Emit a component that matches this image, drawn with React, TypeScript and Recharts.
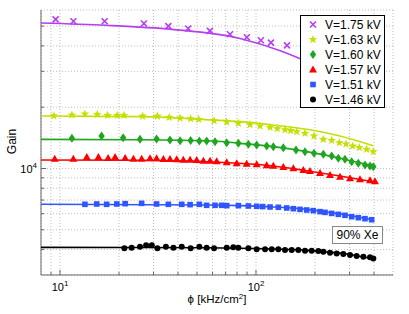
import React from "react";
import { CartesianGrid, Scatter, ScatterChart, XAxis, YAxis } from "recharts";

// flux (kHz/cm^2) and gain readings, one pair of arrays per voltage
const phi175 = [9.5, 11.7, 16.9, 26.8, 35.7, 45.1, 58.2, 73.7, 89.8, 105.9, 119.2, 143.9];
const gain175 = [54000, 52800, 52800, 51500, 50000, 48700, 47400, 45600, 44100, 42600, 41500, 40200];
const fitPhi175 = [8, 17.2, 37.3, 82.9, 133, 200, 300, 400];
const fitGain175 = [51800, 50500, 48200, 43500, 37900, 32200, 26800, 23200];

const phi163 = [9.3, 11.5, 13.4, 15.5, 17.5, 19.6, 21.2, 26.4, 31.4, 36.1, 41.0, 46.4, 51.0, 61.1, 70.9, 81.3, 93.2, 104.8, 117.9, 128.5, 140.6, 150.3, 161.3, 177.8, 197.7, 220.6, 243.3, 266.2, 287.8, 311.3, 336.7, 366.9, 396.9];
const gain163 = [18150, 18310, 18510, 18450, 18240, 18240, 18240, 18070, 18070, 17830, 17690, 17560, 17430, 17170, 16910, 16650, 16410, 16170, 15930, 15690, 15510, 15340, 15160, 14880, 14440, 13900, 13750, 13390, 13190, 12890, 12660, 12420, 12100];
const fitPhi163 = [8, 25.6, 60.5, 82.8, 122, 181, 268, 396];
const fitGain163 = [18100, 17970, 17300, 16980, 16350, 15570, 14440, 12940];

const phi160 = [11.5, 16.3, 21.0, 25.6, 31.1, 36.4, 41.0, 46.4, 51.4, 56.0, 61.8, 70.9, 81.3, 91.4, 100.8, 113.4, 122.6, 137.9, 160.0, 177.8, 197.7, 220.6, 243.3, 263.1, 284.5, 307.7, 332.7, 359.8, 381.7, 396.9];
const gain160 = [14060, 14440, 14170, 13900, 13960, 13800, 13690, 13720, 13660, 13640, 13540, 13390, 13290, 13140, 13040, 12890, 12800, 12650, 12320, 12100, 11870, 11740, 11520, 11220, 11090, 10800, 10600, 10400, 10280, 10210];
const fitPhi160 = [8, 25.6, 60.5, 82.8, 122.6, 181.4, 268.3, 396.9];
const fitGain160 = [13900, 13850, 13640, 13290, 12800, 12100, 11220, 10280];

const phi157 = [9.4, 11.7, 13.7, 15.7, 17.6, 19.1, 21.5, 23.7, 26.1, 28.8, 31.1, 33.7, 36.4, 39.4, 42.6, 46.1, 49.8, 53.9, 58.3, 63.0, 70.9, 79.7, 89.6, 100.8, 113.4, 122.6, 137.9, 155.1, 174.4, 188.6, 212.2, 238.6, 268.3, 301.8, 339.4, 381.7, 404.6];
const gain157 = [11180, 11180, 11390, 11390, 11260, 11390, 11260, 11180, 11180, 11220, 11220, 11130, 11130, 11090, 11050, 11050, 11010, 10920, 10920, 10840, 10720, 10600, 10560, 10480, 10360, 10320, 10170, 10020, 9830, 9720, 9500, 9290, 9120, 8950, 8850, 8750, 8650];
const fitPhi157 = [8, 25.6, 56.0, 122.6, 181.4, 268.3, 396.9];
const fitGain157 = [11010, 10970, 10800, 10280, 9750, 9190, 8610];

const phi151 = [13.4, 15.4, 17.3, 19.5, 21.5, 26.1, 31.1, 35.7, 41.8, 46.1, 51.4, 56.0, 61.8, 66.8, 70.9, 81.3, 91.4, 100.8, 108.1, 117.9, 130.0, 143.4, 155.1, 167.7, 181.4, 196.1, 212.2, 225.0, 243.3, 263.1, 284.5, 307.7, 332.7, 359.8, 389.1];
const gain151 = [6670, 6695, 6670, 6695, 6720, 6745, 6695, 6670, 6670, 6645, 6670, 6595, 6595, 6595, 6570, 6570, 6545, 6520, 6500, 6470, 6450, 6400, 6350, 6300, 6255, 6210, 6140, 6090, 6020, 5955, 5890, 5800, 5735, 5670, 5605];
const fitPhi151 = [8, 56.0, 82.8, 122.6, 181.4, 220.6, 290, 396.9];
const fitGain151 = [6680, 6620, 6570, 6470, 6300, 6140, 5910, 5585];

const phi146 = [21.3, 23.2, 25.6, 27.5, 29.4, 31.4, 34.7, 37.9, 41.8, 46.4, 51.4, 56.0, 61.1, 70.9, 76.6, 81.3, 91.4, 100.8, 111.2, 120.3, 130.0, 140.6, 152.1, 164.4, 177.8, 192.3, 208.0, 220.6, 238.6, 258.0, 279.0, 301.8, 326.2, 353.0, 381.7, 396.9];
const gain146 = [4055, 4085, 4130, 4195, 4195, 4055, 4130, 4085, 4130, 4055, 4130, 4085, 4055, 4085, 4100, 4085, 4055, 4010, 4010, 4010, 4010, 3980, 3980, 3980, 3950, 3950, 3935, 3905, 3860, 3830, 3805, 3760, 3720, 3690, 3665, 3620];
const fitPhi146 = [8, 56.0, 122.6, 181.4, 220.6, 290, 396.9];
const fitGain146 = [4100, 4085, 4025, 3965, 3905, 3805, 3595];

const legendLabels = ["V=1.75 kV", "V=1.63 kV", "V=1.60 kV", "V=1.57 kV", "V=1.51 kV", "V=1.46 kV"];

const xTicks = [9, 10, 20, 30, 40, 50, 60, 70, 80, 90, 100, 200, 300, 400];
const yTicks = [4000, 5000, 6000, 7000, 8000, 9000, 10000, 20000, 30000, 40000, 50000];
const xMajor = [10, 100];
const yMajor = [10000];

const FONT = "'Liberation Sans', Arial, sans-serif";
const FRAME = "#666";

const pts = (xs: number[], ys: number[]) => xs.map((x, i) => ({ x, y: ys[i] }));

type Mark = "x" | "star" | "diamond" | "tri" | "square" | "circle";

function marker(kind: Mark, cx: number, cy: number, color: string) {
  switch (kind) {
    case "x":
      return (
        <g stroke={color} strokeWidth={1.6}>
          <line x1={cx - 3} y1={cy - 3} x2={cx + 3} y2={cy + 3} />
          <line x1={cx - 3} y1={cy + 3} x2={cx + 3} y2={cy - 3} />
        </g>
      );
    case "star": {
      const p: string[] = [];
      for (let i = 0; i < 10; i++) {
        const r = i % 2 === 0 ? 4.6 : 1.9;
        const a = -Math.PI / 2 + (i * Math.PI) / 5;
        p.push(`${cx + r * Math.cos(a)},${cy + r * Math.sin(a)}`);
      }
      return <polygon points={p.join(" ")} fill={color} />;
    }
    case "diamond":
      return <polygon points={`${cx},${cy - 4.5} ${cx + 3.2},${cy} ${cx},${cy + 4.5} ${cx - 3.2},${cy}`} fill={color} />;
    case "tri":
      return <polygon points={`${cx},${cy - 4} ${cx + 4},${cy + 3} ${cx - 4},${cy + 3}`} fill={color} />;
    case "square":
      return <rect x={cx - 2.8} y={cy - 2.8} width={5.6} height={5.6} fill={color} />;
    default:
      return <circle cx={cx} cy={cy} r={3} fill={color} />;
  }
}

const series: { phi: number[]; gain: number[]; fitPhi: number[]; fitGain: number[]; color: string; mark: Mark }[] = [
  { phi: phi175, gain: gain175, fitPhi: fitPhi175, fitGain: fitGain175, color: "#b43ef0", mark: "x" },
  { phi: phi163, gain: gain163, fitPhi: fitPhi163, fitGain: fitGain163, color: "#c3e000", mark: "star" },
  { phi: phi160, gain: gain160, fitPhi: fitPhi160, fitGain: fitGain160, color: "#1fa51f", mark: "diamond" },
  { phi: phi157, gain: gain157, fitPhi: fitPhi157, fitGain: fitGain157, color: "#ff0000", mark: "tri" },
  { phi: phi151, gain: gain151, fitPhi: fitPhi151, fitGain: fitGain151, color: "#2f55ff", mark: "square" },
  { phi: phi146, gain: gain146, fitPhi: fitPhi146, fitGain: fitGain146, color: "#000000", mark: "circle" },
];

function BottomTick({ x, y, payload }: any) {
  const major = xMajor.includes(payload.value);
  return (
    <g>
      <line x1={x} y1={y} x2={x} y2={y - (major ? 5 : 3)} stroke={FRAME} />
      {major && (
        <text x={x} y={y + 16} textAnchor="middle" fontSize={11} fill="#000">
          10
          <tspan dy={-5} fontSize={8}>
            {Math.round(Math.log10(payload.value))}
          </tspan>
        </text>
      )}
    </g>
  );
}

function TopTick({ x, y, payload }: any) {
  const major = xMajor.includes(payload.value);
  return <line x1={x} y1={y} x2={x} y2={y + (major ? 5 : 3)} stroke={FRAME} />;
}

function LeftTick({ x, y, payload }: any) {
  const major = yMajor.includes(payload.value);
  return (
    <g>
      <line x1={x} y1={y} x2={x + (major ? 5 : 3)} y2={y} stroke={FRAME} />
      {major && (
        <text x={x - 4} y={y + 5} textAnchor="end" fontSize={11} fill="#000">
          10
          <tspan dy={-5} fontSize={8}>
            {Math.round(Math.log10(payload.value))}
          </tspan>
        </text>
      )}
    </g>
  );
}

function RightTick({ x, y, payload }: any) {
  const major = yMajor.includes(payload.value);
  return <line x1={x} y1={y} x2={x - (major ? 5 : 3)} y2={y} stroke={FRAME} />;
}

export default function App() {
  return (
    <div style={{ position: "absolute", left: 0, top: 0, width: 409, height: 314, background: "#fff", fontFamily: FONT }}>
      <ScatterChart width={409} height={314} margin={{ top: 10, right: 16, bottom: 0, left: 0 }} style={{ fontFamily: FONT }}>
        <CartesianGrid stroke="#bdbdbd" strokeDasharray="1 2" />
        <XAxis
          type="number"
          dataKey="x"
          scale="log"
          domain={[8, 500]}
          allowDataOverflow
          ticks={xTicks}
          interval={0}
          height={39}
          tickSize={0}
          tickMargin={0}
          tickLine={false}
          tick={<BottomTick />}
          axisLine={{ stroke: FRAME }}
          label={(p: any) => {
            const vb = p.viewBox;
            return (
              <text x={vb.x + vb.width / 2} y={vb.y + 28} textAnchor="middle" fontSize={11.5} fill="#000">
                ϕ [kHz/cm
                <tspan dy={-4} fontSize={8}>2</tspan>
                <tspan dy={4}>]</tspan>
              </text>
            );
          }}
        />
        <XAxis
          xAxisId="top"
          orientation="top"
          type="number"
          dataKey="x"
          scale="log"
          domain={[8, 500]}
          allowDataOverflow
          ticks={xTicks}
          interval={0}
          height={0}
          tickSize={0}
          tickMargin={0}
          tickLine={false}
          tick={<TopTick />}
          axisLine={{ stroke: FRAME }}
        />
        <YAxis
          type="number"
          dataKey="y"
          scale="log"
          domain={[3000, 60000]}
          allowDataOverflow
          ticks={yTicks}
          interval={0}
          width={41}
          tickSize={0}
          tickMargin={0}
          tickLine={false}
          tick={<LeftTick />}
          axisLine={{ stroke: FRAME }}
          label={(p: any) => {
            const vb = p.viewBox;
            const cx = vb.x + 12;
            const cy = vb.y + vb.height / 2 - 1;
            return (
              <text x={cx} y={cy} textAnchor="middle" dominantBaseline="central" fontSize={12} fill="#000" transform={`rotate(-90 ${cx} ${cy})`}>
                Gain
              </text>
            );
          }}
        />
        <YAxis
          yAxisId="right"
          orientation="right"
          type="number"
          dataKey="y"
          scale="log"
          domain={[3000, 60000]}
          allowDataOverflow
          ticks={yTicks}
          interval={0}
          width={0}
          tickSize={0}
          tickMargin={0}
          tickLine={false}
          tick={<RightTick />}
          axisLine={{ stroke: FRAME }}
        />
        {series.map((s, i) => (
          <Scatter
            key={`fit-${i}`}
            data={pts(s.fitPhi, s.fitGain)}
            line={{ stroke: s.color, strokeWidth: 1.6 }}
            lineJointType="monotoneX"
            shape={() => <g />}
            isAnimationActive={false}
          />
        ))}
        {series.map((s, i) => (
          <Scatter
            key={`pts-${i}`}
            data={pts(s.phi, s.gain)}
            shape={(p: any) => marker(s.mark, p.cx, p.cy, s.color)}
            isAnimationActive={false}
          />
        ))}
      </ScatterChart>

      <svg style={{ position: "absolute", left: 300, top: 15 }} width={86} height={94}>
        <rect x={0.5} y={0.5} width={84} height={92} fill="#fff" stroke="#000" />
        {series.map((s, i) => (
          <g key={i}>
            {marker(s.mark, 13, 9.5 + i * 15, s.color)}
            <text x={25} y={13.8 + i * 15} fontSize={12} fill="#000" fontFamily={FONT}>
              {legendLabels[i]}
            </text>
          </g>
        ))}
      </svg>

      <svg style={{ position: "absolute", left: 332, top: 226 }} width={52} height={19}>
        <rect x={0.5} y={0.5} width={50} height={17} fill="#fff" stroke="#888" />
        <text x={25.5} y={13.3} textAnchor="middle" fontSize={12} fill="#000" fontFamily={FONT}>
          90% Xe
        </text>
      </svg>
    </div>
  );
}
